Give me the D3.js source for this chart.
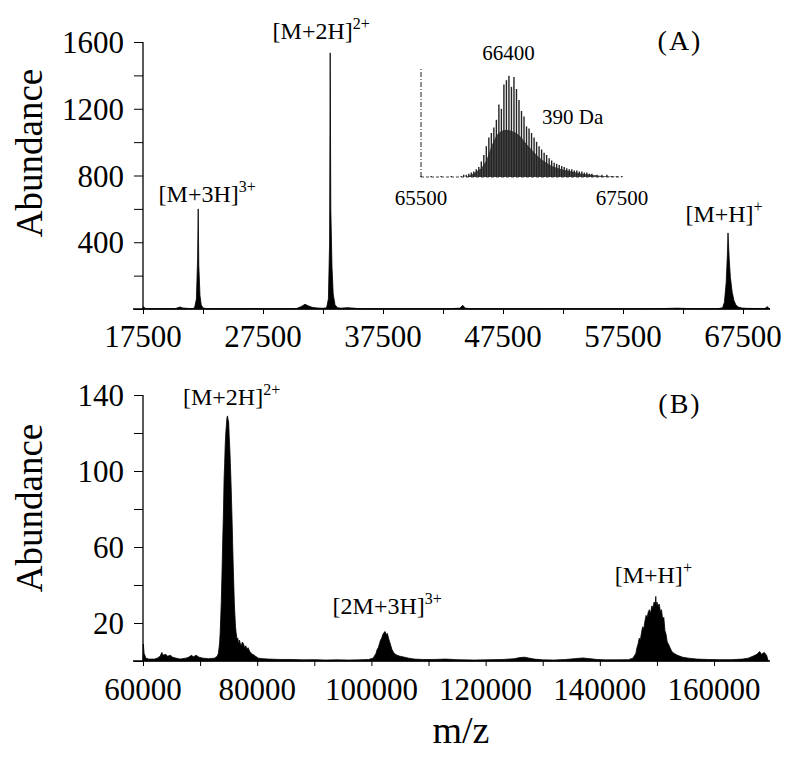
<!DOCTYPE html>
<html><head><meta charset="utf-8">
<script src="https://cdn.jsdelivr.net/npm/d3@7"></script>
<style>body{margin:0;background:#fff}svg{display:block}text{font-family:"Liberation Serif","Times New Roman",serif;fill:#000}</style>
</head><body><svg id="c" width="796" height="760"></svg>
<script>
// ---------- Panel A data ----------
const mzA = [17500,17550,17650,17900,18500,19500,20200,20400,20600,20800,21000,21300,21600,21800,21950,22050,22100,22150,22250,22350,22500,22800,24000,26000,26700,27000,28000,29500,30300,30700,31000,31300,31600,32000,32500,32800,32950,33050,33100,33150,33250,33350,33500,33700,34000,34500,34900,35500,37000,39000,41000,43000,43900,44150,44350,44800,46000,48000,50000,51500,52000,52500,54000,56000,58000,59500,61000,62000,62400,62800,63500,64500,65500,65800,65950,66100,66200,66250,66350,66450,66600,66750,66900,67100,67400,67800,68500,69000,69300,69550,69650,69750];
const abA = [0,15,4,2,1.5,1.5,2,8,12,6,5,3,2,8,60,300,600,260,80,25,6,2,1.5,1.5,3,2,1,1.5,3,15,28,18,10,6,4,8,60,400,1535,600,250,90,25,8,5,8,6,2,1.5,1,1.5,1.5,5,22,5,2,1.5,1,1,2,3,1.5,1,1.5,1,2,3,5,4,3,2,2,3,8,40,160,330,456,300,190,100,50,25,12,6,4,3,3,3,14,3,0];
const xTicksA = [17500,27500,37500,47500,57500,67500];
const yTicksA = [400,800,1200,1600];
const labelsA = [
  {text:"[M+3H]", sup:"3+", mz:18800, ab:640},
  {text:"[M+2H]", sup:"2+", mz:28300, ab:1620},
  {text:"[M+H]", sup:"+", mz:62700, ab:520}
];
// inset (A)
const mzInset = [65500,65600,65700,65800,65900,65925,65950,65975,66000,66025,66050,66075,66100,66125,66150,66175,66200,66225,66250,66275,66300,66325,66350,66375,66400,66425,66450,66475,66500,66525,66550,66575,66600,66625,66650,66675,66700,66725,66750,66775,66800,66825,66850,66875,66900,66925,66950,66975,67000,67025,67050,67075,67100,67125,67150,67175,67200,67250,67300,67350,67400,67450,67500];
const abInset = [1,1,1,1,1,2,2,3,4,5,7,9,14,20,28,36,40,45,52,66,62,84,88,92,82,91,80,70,60,55,46,44,40,36,32,28,25,22,20,17,15,13,12,11,10,9,8,7,7,6,6,5,5,4,4,3,3,2,2,2,1,1,1];
const mzInsetBody = [65950,66000,66100,66150,66200,66250,66300,66350,66400,66450,66500,66550,66600,66650,66700,66750,66800,66900,67000,67100,67200,67300,67500];
const abInsetBody = [0,2,8,15,28,38,42,43,42,40,36,30,25,20,16,13,10,7,5,3,2,1,0];
const insetTicks = [65500,67500];

// ---------- Panel B data ----------
const mzB = [60000,60050,60200,60500,61000,62000,62500,63000,63300,63500,64000,64300,64800,65200,65800,66500,67500,68000,68500,68800,69300,69800,70500,71500,72500,
  73000,73200,73400,73500,73600,73700,73800,73900,74000,74100,74200,74300,74400,74500,74600,74700,74800,74900,75000,75100,75200,75300,75400,75500,75600,75700,75800,75900,76000,76100,76200,76300,76400,76500,76600,76700,76800,76900,77000,77200,77400,77600,77800,78000,78200,78400,78700,79000,79200,79500,79700,80200,
  81000,82000,84000,86000,88000,90000,92000,94000,96000,98000,99500,
  100300,100600,100800,101000,101200,101400,101600,101800,102000,102200,102400,102600,102800,103000,103200,103400,103600,103800,104000,104500,105000,105800,106500,107500,
  109000,111000,113000,115000,118000,120000,123000,125000,126000,126800,127500,128500,130000,132000,134000,135500,137000,138000,139500,141000,143000,145000,
  145800,146100,146300,146500,146700,146900,147100,147300,147500,147700,147900,148100,148300,148500,148700,148900,149100,149300,149500,149700,149800,149900,150000,150200,150400,150600,150800,151000,151200,151400,151600,151800,152000,152300,152600,153000,153600,154500,155500,
  157000,159000,161000,163000,165000,166000,166800,167500,168000,168300,168800,169200,169500];
const abB = [0,9,4,1.5,1,1,1.5,2.5,4.5,3,3.5,2.5,3,2,1.5,1,1.5,2,3,2.2,3,2,1.5,1.2,1.5,
  2.5,4,9,14,22,30,42,55,68,80,96,104,114,120,124,128,129,127,126,118,112,104,95,85,74,62,50,40,30,24,18,15,13,11,12,10,9,11,9.5,8,10,9,7,8,6,7,5,4,3.5,3,2.5,1.5,
  1.2,1,0.8,0.8,0.6,0.7,0.5,0.6,0.5,0.6,0.8,
  1.5,3,4,6,7,9,11,12,14,15,15.5,14,14.5,12,10,8,6,5,4,3,2.5,2,1.5,1,
  0.8,0.8,1,0.7,0.5,0.6,0.8,1.2,1.8,2,1.6,1,0.6,0.5,0.8,1.2,1.6,1.3,0.8,0.6,0.6,0.7,
  1.5,3,4,7,9,12,11,15,18,17,21,24,23,26,27,25,29,28,31,30,34,28,31,29,30,26,27,22,23,16,14,10,9,7,5,4,3,2,1.5,
  1,0.8,0.7,0.7,1,1.5,2.5,3.5,5,3.5,4.5,3,0];
const xTicksB = [60000,80000,100000,120000,140000,160000];
const yTicksB = [20,60,100,140];
const labelsB = [
  {text:"[M+2H]", sup:"2+", mz:67000, ab:135},
  {text:"[2M+3H]", sup:"3+", mz:93200, ab:25},
  {text:"[M+H]", sup:"+", mz:142600, ab:41}
];

// ---------- drawing ----------
const svg = d3.select("#c");

function panel(cfg){
  const g = svg.append("g");
  const x = d3.scaleLinear().domain(cfg.xDomain).range([143,770]);
  const y = d3.scaleLinear().domain(cfg.yDomain).range([cfg.y0, cfg.y1]);
  // spectrum
  const pts = cfg.mz.map((m,i)=>[m,cfg.ab[i]]);
  g.append("path").datum(pts)
    .attr("d", d3.area().x(d=>x(d[0])).y0(y(0)).y1(d=>y(d[1])))
    .attr("fill","#000").attr("stroke","#000").attr("stroke-width",0.8).attr("stroke-linejoin","round");
  // x axis
  const xa = g.append("g").attr("transform",`translate(0,${y(0)})`)
    .call(d3.axisBottom(x).tickValues(cfg.xMinor).tickSize(5).tickFormat(""));
  xa.select(".domain").attr("d",`M${x.range()[0]-10},0H${x.range()[1]}`).attr("stroke-width",1.3);
  xa.selectAll(".tick line").attr("stroke-width",1);
  g.append("g").selectAll("text").data(cfg.xTicks).join("text")
    .attr("x",d=>x(d)).attr("y",cfg.xLabelY).attr("text-anchor","middle")
    .style("font-size","31px").text(d=>d);
  // y axis
  const ya = g.append("g").attr("transform","translate(143,0)")
    .call(d3.axisLeft(y).tickValues(cfg.yMinor).tickSize(9).tickFormat(""));
  ya.select(".domain").attr("d",`M0,${y(0)}V${y(cfg.yDomain[1])}`).attr("stroke-width",1.3);
  ya.selectAll(".tick line").attr("stroke-width",1);
  g.append("g").selectAll("text").data(cfg.yTicks).join("text")
    .attr("x",124).attr("y",d=>y(d)).attr("dy","0.36em").attr("text-anchor","end")
    .style("font-size","31px").text(d=>d);
  // y title
  g.append("text").attr("transform",`translate(42,${cfg.titleY}) rotate(-90)`)
    .attr("text-anchor","middle").style("font-size","37px").text("Abundance");
  // peak labels
  cfg.labels.forEach(l=>{
    const t = g.append("text").attr("x",x(l.mz)).attr("y",y(l.ab)).style("font-size","24px");
    t.append("tspan").text(l.text);
    t.append("tspan").attr("dy",-10).style("font-size","16px").text(l.sup);
  });
  // panel letter
  g.append("text").attr("x",680).attr("y",cfg.letterY).attr("text-anchor","middle")
    .style("font-size","28px").attr("letter-spacing","2px").text(cfg.letter);
  return {x,y,g};
}

panel({
  xDomain:[17500,69750], yDomain:[0,1600], y0:309, y1:42,
  mz:mzA, ab:abA, xTicks:xTicksA, yTicks:yTicksA,
  xMinor:d3.range(17500,69750,5000), yMinor:d3.range(0,1601,200),
  xLabelY:347, titleY:153, labels:labelsA, letter:"(A)", letterY:50
});

panel({
  xDomain:[60000,169800], yDomain:[0,140], y0:661, y1:395,
  mz:mzB, ab:abB, xTicks:xTicksB, yTicks:yTicksB,
  xMinor:d3.range(60000,169800,10000), yMinor:d3.range(0,141,20),
  xLabelY:700, titleY:508, labels:labelsB, letter:"(B)", letterY:413
});

// m/z title
svg.append("text").attr("x",461).attr("y",743).attr("text-anchor","middle")
  .style("font-size","38px").text("m/z");

// inset in panel A
const ix = d3.scaleLinear().domain([65500,67500]).range([421,622]);
const iy = d3.scaleLinear().domain([0,100]).range([177,67]);
const ig = svg.append("g");
ig.append("line").attr("x1",ix(65500)).attr("x2",ix(65500)).attr("y1",iy(0)).attr("y2",iy(100))
  .attr("stroke","#444").attr("stroke-width",1.2).attr("stroke-dasharray","5,2,1,2");
ig.append("line").attr("x1",ix(65500)).attr("x2",ix(67500)).attr("y1",iy(0)).attr("y2",iy(0))
  .attr("stroke","#444").attr("stroke-width",1.2).attr("stroke-dasharray","3,2");
ig.append("path").datum(mzInsetBody.map((m,i)=>[m,abInsetBody[i]]))
  .attr("d",d3.area().x(d=>ix(d[0])).y0(iy(0)).y1(d=>iy(d[1])))
  .attr("fill","#4a4a4a");
ig.selectAll("line.comb").data(mzInset.map((m,i)=>[m,abInset[i]])).join("line").attr("class","comb")
  .attr("x1",d=>ix(d[0])).attr("x2",d=>ix(d[0])).attr("y1",iy(0)).attr("y2",d=>iy(d[1]))
  .attr("stroke","#222").attr("stroke-width",1.4);
ig.selectAll("text.it").data(insetTicks).join("text").attr("class","it")
  .attr("x",d=>ix(d)).attr("y",205).attr("text-anchor","middle").style("font-size","21px").text(d=>d);
ig.append("text").attr("x",ix(66370)).attr("y",60).attr("text-anchor","middle").style("font-size","21px").text("66400");
ig.append("text").attr("x",542).attr("y",124).style("font-size","21px").text("390 Da");
</script></body></html>
